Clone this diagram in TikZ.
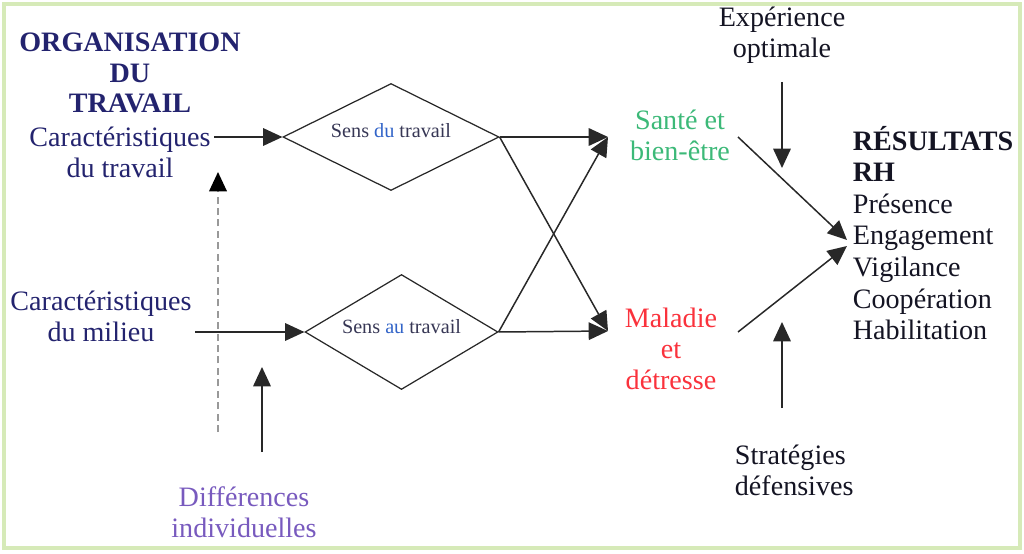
\documentclass[tikz,border=0pt]{standalone}
\usepackage{fontspec}
\setmainfont{Liberation Serif}
\usepackage{tikz}
\usetikzlibrary{
  arrows.meta,
  shapes.geometric,
  positioning
}
\definecolor{framegreen}{RGB}{214,234,184}
\definecolor{orgnavy}{RGB}{35,35,110}
\definecolor{sensgray}{RGB}{55,55,85}
\definecolor{sensblue}{RGB}{50,100,200}
\definecolor{santegreen}{RGB}{60,185,120}
\definecolor{malred}{RGB}{250,50,60}
\definecolor{difpurple}{RGB}{120,90,190}
\definecolor{inkblack}{RGB}{20,20,35}
\definecolor{linegray}{RGB}{40,40,40}
\tikzset{
  % Text labels
  lab/.style      = {font=\fontsize{16}{17.5}\selectfont, align=center, inner sep=2pt},
  labbold/.style  = {lab, font=\fontsize{16}{17.5}\selectfont\bfseries},
  labres/.style   = {lab, font=\fontsize{16}{18}\selectfont, align=left},
  % Diamonds
  sensbox/.style  = {diamond, aspect=2, draw=linegray, line width=0.7pt,
                     inner sep=0pt, text=sensgray,
                     font=\fontsize{11.5}{13}\selectfont},
  % Arrows
  arr/.style      = {-{Triangle[length=11pt,width=10pt]}, line width=0.85pt, draw=linegray},
  dasharr/.style  = {-{Triangle[length=11pt,width=10pt,color=black]}, line width=1pt,
                     draw=black!40, dash pattern=on 4pt off 2.5pt},
}
\begin{document}
\begin{tikzpicture}[x=0.02cm, y=-0.02cm]
  \useasboundingbox (0,0) rectangle (1024,554);
  % Frame
  \draw[framegreen, line width=1.8pt] (4,4) rectangle (1020,548);
  % Left side
  \node[labbold, text=orgnavy] (orgtitle) at (130,73) {ORGANISATION\\DU\\TRAVAIL};
  \node[lab, text=orgnavy] (cartrav) at (120,152) {Caractéristiques\\du travail};
  \node[lab, text=orgnavy] (carmil) at (101,316) {Caractéristiques\\du milieu};
  \node[lab, text=difpurple] (difind) at (244,512) {Différences\\individuelles};
  % Sens
  \node[sensbox, minimum width=4.32cm, minimum height=2.14cm] (sensdu) at (391,137)
    {\raisebox{7pt}{Sens \textcolor{sensblue}{du} travail}};
  \node[sensbox, minimum width=3.86cm, minimum height=2.3cm] (sensau) at (401.5,332)
    {\raisebox{6pt}{Sens \textcolor{sensblue}{au} travail}};
  % Outcomes
  \node[lab, text=santegreen] (sante) at (680,135) {Santé et\\bien-être};
  \node[lab, text=malred] (maladie) at (671,349) {Maladie\\et\\détresse};
  \node[lab, text=inkblack] (experience) at (782,35) {Expérience\\optimale};
  \node[lab, text=inkblack, align=left, anchor=west] (strategies) at (731,470)
    {Stratégies\\défensives};
  \node[labres, text=inkblack, anchor=west] (resultats) at (849,233)
    {\textbf{RÉSULTATS}\\\textbf{RH}\\Présence\\Engagement\\Vigilance\\Coopération\\Habilitation};
  % Arrow ends
  \coordinate (santetip) at (608,137);
  \coordinate (maltip) at (608,331);
  \coordinate (santeout) at (738,137);
  \coordinate (malout) at (738,332);
  \coordinate (rhtipA) at (847,240);
  \coordinate (rhtipB) at (847,246);
  \coordinate (expstart) at (782,82);
  \coordinate (exptip) at (782,168);
  \coordinate (strstart) at (782,408);
  \coordinate (strtip) at (782,322);
  \coordinate (dashbot) at (218,432);
  \coordinate (dashtip) at (218,172);
  \coordinate (difstart) at (262,452);
  \coordinate (diftip) at (262,367);
  % Connectors
  \draw[arr] (cartrav.east |- sensdu.west) -- (sensdu.west);
  \draw[arr] (carmil.east |- sensau.west) -- (sensau.west);
  \draw[arr] (sensdu.east) -- (santetip);
  \draw[arr] (sensdu.east) -- (maltip);
  \draw[arr] (sensau.east) -- (maltip);
  \draw[arr] (sensau.east) -- (santetip);
  \draw[arr] (santeout) -- (rhtipA);
  \draw[arr] (malout) -- (rhtipB);
  \draw[arr] (expstart) -- (exptip);
  \draw[arr] (strstart) -- (strtip);
  \draw[dasharr] (dashbot) -- (dashtip);
  \draw[arr] (difstart) -- (diftip);
\end{tikzpicture}
\end{document}
